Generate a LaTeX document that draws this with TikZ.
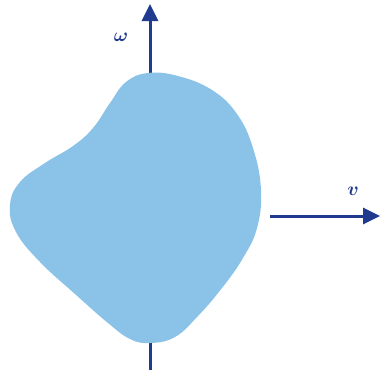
\documentclass[tikz,border=0pt]{standalone}
\usepackage{amsmath,bm}
\usetikzlibrary{arrows.meta}
\definecolor{axisblue}{HTML}{1F3A8E}
\definecolor{blobblue}{HTML}{8BC3E8}
\newcommand{\biglbl}[1]{\scalebox{1.9}{$\bm{#1}$}}
\begin{document}
\begin{tikzpicture}[x=1pt,y=-1pt,
  axis/.style={draw=axisblue,line width=3pt,-{Triangle[length=17pt,width=16pt]}},
  lbl/.style={text=axisblue}]
\useasboundingbox (0,0) rectangle (380,372);
\coordinate (vbot) at (150,370);
\coordinate (vtop) at (150,4);
\coordinate (hl) at (270,216);
\coordinate (hr) at (380,216);
\draw[axis] (vbot) -- (vtop);
\draw[axis] (hl) -- (hr);
\fill[blobblue] plot[smooth cycle,tension=0.7] coordinates {
 (261,190) (257,228) (243,258) (222,288) (198,316) (175,337) (150,343)
 (130,339) (108,323) (75,294) (40,262) (16,232) (10,205) (20,182)
 (45,163) (73,146) (93,128) (110,103) (126,82) (148,73) (178,76)
 (212,90) (237,114) (253,148)};
\node[lbl] (w) at (121,37) {\biglbl{\omega}};
\node[lbl] (v) at (353,191) {\biglbl{v}};
\end{tikzpicture}
\end{document}
